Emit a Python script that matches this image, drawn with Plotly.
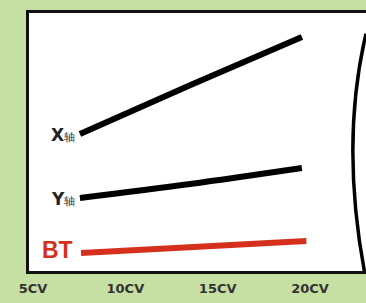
import plotly.graph_objects as go

# data
x_labels = ["5CV", "10CV", "15CV", "20CV"]
x_ticks = [5, 10, 15, 20]
x_start, x_mid, x_end = 7.54, 13.5, 19.56
x_axis_vals = [53.1, 72.0, 90.7]
y_axis_vals = [28.3, 33.7, 39.9]
bt_x = [7.6, 13.6, 19.8]
bt_vals = [7.0, 9.3, 11.6]
series_names = ["X轴", "Y轴", "BT"]

GREEN = "#c6dfa3"
RED = "#d5301e"

fig = go.Figure()
xs = [x_start, x_mid, x_end]
fig.add_trace(go.Scatter(x=xs, y=x_axis_vals, mode="lines", line=dict(color="black", width=6), name=series_names[0], line_shape="spline"))
fig.add_trace(go.Scatter(x=xs, y=y_axis_vals, mode="lines", line=dict(color="black", width=6), name=series_names[1], line_shape="spline"))
fig.add_trace(go.Scatter(x=bt_x, y=bt_vals, mode="lines", line=dict(color=RED, width=6), name=series_names[2]))

def label(name):
    return f"<b>{name[0]}</b><span style='font-size:11px;color:#333'>{name[1:]}</span>"

fig.add_annotation(x=x_start, y=x_axis_vals[0], xref="x", yref="y", xanchor="right", yanchor="middle", xshift=-3, yshift=-1,
                   text=label(series_names[0]), showarrow=False,
                   font=dict(family="DejaVu Sans", size=17, color="#222"))
fig.add_annotation(x=x_start, y=y_axis_vals[0], xref="x", yref="y", xanchor="right", yanchor="middle", xshift=-3, yshift=-1,
                   text=label(series_names[1]), showarrow=False,
                   font=dict(family="DejaVu Sans", size=17, color="#222"))
fig.add_annotation(x=bt_x[0], y=bt_vals[0], xref="x", yref="y", xanchor="right", yanchor="middle", xshift=-6, yshift=3,
                   text=f"<b>{series_names[2]}</b>", showarrow=False,
                   font=dict(family="Liberation Sans", size=23, color=RED))

# decorative arc at right edge
fig.add_shape(type="path", xref="paper", yref="paper",
              path="M 1.0,0.92 Q 0.9245,0.5 0.995,0.0",
              line=dict(color="black", width=3.5))

fig.update_layout(
    width=366, height=303,
    margin=dict(l=29, r=0, t=13, b=32),
    paper_bgcolor=GREEN, plot_bgcolor="white",
    showlegend=False,
    xaxis=dict(range=[4.783, 23.03], tickvals=x_ticks, ticktext=[f"<b>{t}</b>" for t in x_labels],
               showgrid=False, zeroline=False,
               showline=True, linecolor="#111", linewidth=3, mirror=True, ticks="",
               tickfont=dict(family="DejaVu Sans", size=13, color="#333"), ticklabelstandoff=3),
    yaxis=dict(range=[0, 100], showticklabels=False, showgrid=False, zeroline=False,
               showline=True, linecolor="#111", linewidth=3, mirror=False, ticks=""),
)
fig.write_html("out.html", config={"displayModeBar": False})
with open("out.html", encoding="utf-8") as f:
    html = f.read()
html = html.replace("<head>", "<head><style>html,body{margin:0;padding:0;overflow:hidden;}</style>", 1)
with open("out.html", "w", encoding="utf-8") as f:
    f.write(html)
